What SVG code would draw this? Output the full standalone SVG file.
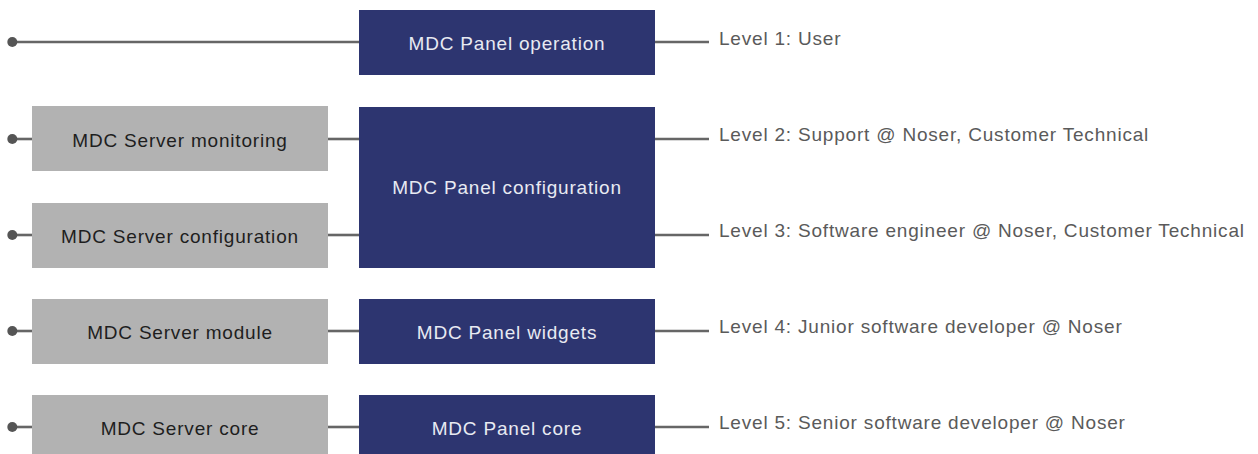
<svg xmlns="http://www.w3.org/2000/svg" width="1258" height="454" viewBox="0 0 1258 454">
<style>
.dark{fill:#2d3570}
.gray{fill:#b2b2b2}
.dt{font-family:"Liberation Sans",Arial,sans-serif;font-size:19px;letter-spacing:0.8px;fill:#e8eaf2;text-anchor:middle}
.gt{font-family:"Liberation Sans",Arial,sans-serif;font-size:19px;letter-spacing:0.8px;fill:#1e1e1e;text-anchor:middle}
.lt{font-family:"Liberation Sans",Arial,sans-serif;font-size:19px;letter-spacing:0.8px;fill:#5a5a5a}
.ln{stroke:#666;stroke-width:2.6;fill:none}
.dot{fill:#555}
</style>
<g id="connectors">
<line class="ln" x1="12" y1="42" x2="359" y2="42"/>
<line class="ln" x1="655" y1="42" x2="709" y2="42"/>
<line class="ln" x1="12" y1="139" x2="32" y2="139"/>
<line class="ln" x1="328" y1="139" x2="359" y2="139"/>
<line class="ln" x1="655" y1="139" x2="709" y2="139"/>
<line class="ln" x1="12" y1="235" x2="32" y2="235"/>
<line class="ln" x1="328" y1="235" x2="359" y2="235"/>
<line class="ln" x1="655" y1="235" x2="709" y2="235"/>
<line class="ln" x1="12" y1="331" x2="32" y2="331"/>
<line class="ln" x1="328" y1="331" x2="359" y2="331"/>
<line class="ln" x1="655" y1="331" x2="709" y2="331"/>
<line class="ln" x1="12" y1="427" x2="32" y2="427"/>
<line class="ln" x1="328" y1="427" x2="359" y2="427"/>
<line class="ln" x1="655" y1="427" x2="709" y2="427"/>
<circle class="dot" cx="12.3" cy="42" r="5"/>
<circle class="dot" cx="12.3" cy="139" r="5"/>
<circle class="dot" cx="12.3" cy="235" r="5"/>
<circle class="dot" cx="12.3" cy="331" r="5"/>
<circle class="dot" cx="12.3" cy="427" r="5"/>
</g>
<g id="panel-operation"><rect class="dark" x="359" y="10" width="296" height="65"/><text class="dt" x="507" y="50">MDC Panel operation</text></g>
<g id="panel-configuration"><rect class="dark" x="359" y="107" width="296" height="161"/><text class="dt" x="507" y="194">MDC Panel configuration</text></g>
<g id="panel-widgets"><rect class="dark" x="359" y="299" width="296" height="65"/><text class="dt" x="507" y="339">MDC Panel widgets</text></g>
<g id="panel-core"><rect class="dark" x="359" y="395" width="296" height="65"/><text class="dt" x="507" y="435">MDC Panel core</text></g>
<g id="server-monitoring"><rect class="gray" x="32" y="106" width="296" height="65"/><text class="gt" x="180" y="147">MDC Server monitoring</text></g>
<g id="server-configuration"><rect class="gray" x="32" y="203" width="296" height="65"/><text class="gt" x="180" y="243">MDC Server configuration</text></g>
<g id="server-module"><rect class="gray" x="32" y="299" width="296" height="65"/><text class="gt" x="180" y="339">MDC Server module</text></g>
<g id="server-core"><rect class="gray" x="32" y="395" width="296" height="65"/><text class="gt" x="180" y="435">MDC Server core</text></g>
<g id="level-1"><text class="lt" x="719" y="45">Level 1: User</text></g>
<g id="level-2"><text class="lt" x="719" y="141">Level 2: Support @ Noser, Customer Technical</text></g>
<g id="level-3"><text class="lt" x="719" y="237">Level 3: Software engineer @ Noser, Customer Technical</text></g>
<g id="level-4"><text class="lt" x="719" y="333">Level 4: Junior software developer @ Noser</text></g>
<g id="level-5"><text class="lt" x="719" y="429">Level 5: Senior software developer @ Noser</text></g>
</svg>
